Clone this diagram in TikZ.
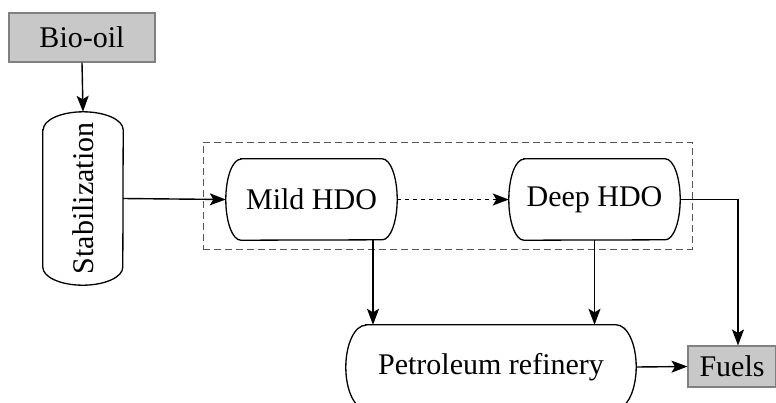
\documentclass[tikz,border=0pt]{standalone}
\usepackage{fontspec}
\setmainfont{Liberation Serif}
\usetikzlibrary{arrows.meta,calc}
\definecolor{boxgray}{HTML}{C8C8C8}
\definecolor{boxedge}{HTML}{808080}
\definecolor{groupedge}{HTML}{555555}

% outline of a node whose short sides are half ellipses
% #1: node, #2: bulge of the ends, #3: half of the node's short side
\newcommand{\hcapsule}[3]{%
  \draw[line width=1.3pt]
    ($(#1.north west)+(#2,0)$) -- ($(#1.north east)-(#2,0)$)
    arc[start angle=90, end angle=-90, x radius=#2, y radius=#3]
    -- ($(#1.south west)+(#2,0)$)
    arc[start angle=270, end angle=90, x radius=#2, y radius=#3] -- cycle;}
\newcommand{\vcapsule}[3]{%
  \draw[line width=1.3pt]
    ($(#1.north west)+(0,-#2)$) -- ($(#1.south west)+(0,#2)$)
    arc[start angle=180, end angle=360, x radius=#3, y radius=#2]
    -- ($(#1.north east)+(0,-#2)$)
    arc[start angle=0, end angle=180, x radius=#3, y radius=#2] -- cycle;}

\begin{document}
\begin{tikzpicture}[
  x=1pt, y=1pt,
  every node/.style={font=\fontsize{30}{35}\selectfont, inner sep=0pt},
  graybox/.style={draw=boxedge, fill=boxgray, line width=1.1pt},
  stage/.style={},
  flow/.style={line width=1.4pt, -{Stealth[length=16pt,width=12pt,inset=3.5pt]}},
]
\fill[white] (0,0) rectangle (776,-402);
\clip (0,0) rectangle (776,-402);

% process boxes
\node[graybox, minimum width=146pt, minimum height=49pt] (bio) at (82,-37.5) {Bio-oil};
\node[stage, minimum width=80pt, minimum height=173pt] (stab) at (83,-198.5) {\rotatebox{90}{Stabilization}};
\node[draw=groupedge, dash pattern=on 7pt off 4pt, line width=1pt,
      minimum width=489pt, minimum height=107pt] (group) at (447.5,-195.5) {};
\node[stage, minimum width=171pt, minimum height=81pt] (mild) at (311.5,-199.5) {Mild HDO};
\node[stage, minimum width=171pt, minimum height=81pt] (deep) at (594.5,-199.5) {Deep HDO};
\node[stage, minimum width=290pt, minimum height=84pt] (ref) at (491,-367) {Petroleum refinery};
\node[graybox, minimum width=88pt, minimum height=41pt] (fuels) at (732,-366.5) {Fuels};

\vcapsule{stab}{18}{40}
\hcapsule{mild}{15}{40.5}
\hcapsule{deep}{15}{40.5}
\hcapsule{ref}{20}{42}

% connectors
\draw[flow] (bio.south) -- (stab.north);
\draw[flow] (stab.east) -- (mild.west);
\draw[flow, dash pattern=on 4pt off 4pt] (mild.east) -- (deep.west);
\draw[flow] (deep.east) -| ([xshift=6pt]fuels.north);
\draw[flow] ([xshift=61.5pt]mild.south) -- ([xshift=61.5pt]mild.south |- ref.north);
\draw[flow] (deep.south) -- (deep.south |- ref.north);
\draw[flow] (ref.east) -- (fuels.west);
\end{tikzpicture}
\end{document}
